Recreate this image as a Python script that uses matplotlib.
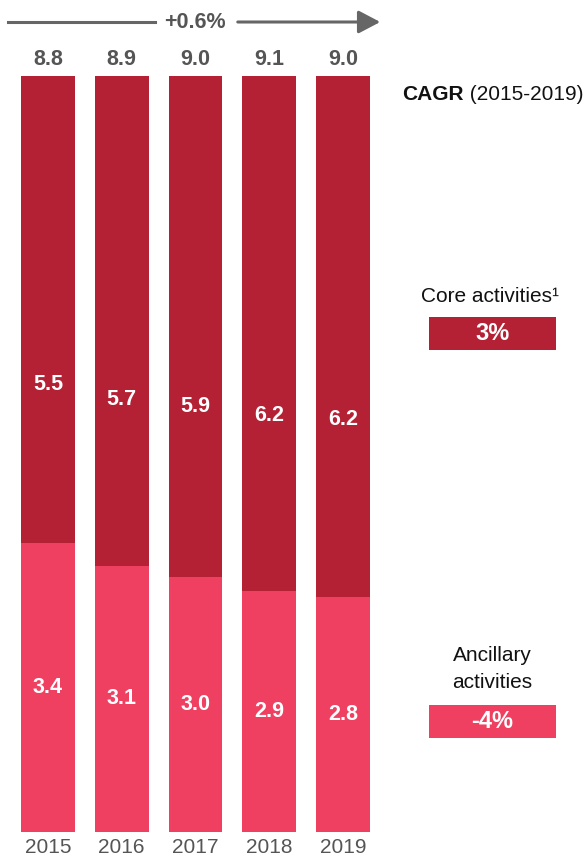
import numpy as np
import matplotlib
matplotlib.use("Agg")
import matplotlib.pyplot as plt
from matplotlib.lines import Line2D
from matplotlib.patches import FancyArrowPatch, Rectangle

plt.rcParams['font.family'] = ['Liberation Sans', 'DejaVu Sans']

# Datos
years = ['2015', '2016', '2017', '2018', '2019']
core = np.array([5.5, 5.7, 5.9, 6.2, 6.2])
ancillary = np.array([3.4, 3.1, 3.0, 2.9, 2.8])
totals = ['8.8', '8.9', '9.0', '9.1', '9.0']
cagr_total = '+0.6%'
cagr_core = '3%'
cagr_ancillary = '-4%'

c_core = '#B52134'
c_anc = '#F04061'
c_grey = '#555555'

W, H = 584, 857
fig = plt.figure(figsize=(W / 100, H / 100), dpi=100)

# ejes de las barras (en pixeles de la figura)
x0, x1, ytop, ybot = 21, 370, 76, 832
ax = fig.add_axes([x0 / W, 1 - ybot / H, (x1 - x0) / W, (ybot - ytop) / H])
bw = 0.732
x = np.arange(len(years))

# barras al 100 %
suma = core + ancillary
sh_anc = ancillary / suma
sh_core = core / suma
ax.bar(x, sh_anc, width=bw, color=c_anc, linewidth=0)
ax.bar(x, sh_core, width=bw, bottom=sh_anc, color=c_core, linewidth=0)
ax.set_xlim(-bw / 2, len(years) - 1 + bw / 2)
ax.set_ylim(0, 1)
ax.axis('off')

for i in range(len(years)):
    ax.text(x[i], sh_anc[i] / 2, f'{ancillary[i]:.1f}', ha='center', va='center',
            color='white', fontsize=15.5, fontweight='bold')
    ax.text(x[i], sh_anc[i] + 0.34 * sh_core[i], f'{core[i]:.1f}', ha='center', va='center',
            color='white', fontsize=15.5, fontweight='bold')
    ax.text(x[i], 1.0 + 6 / 756, totals[i], ha='center', va='bottom',
            color=c_grey, fontsize=15.5, fontweight='bold')
    ax.text(x[i], -6 / 756, years[i], ha='center', va='top',
            color=c_grey, fontsize=15)

# flecha CAGR total
ya = 1 - 22 / H
fig.add_artist(Line2D([8 / W, 155 / W], [ya, ya], color='#666666', lw=2.2))
fig.add_artist(FancyArrowPatch((235 / W, ya), (383 / W, ya), transform=fig.transFigure,
                               arrowstyle='-|>,head_length=0.95,head_width=0.5',
                               mutation_scale=14, color='#666666', lw=2.2))
fig.text(195 / W, ya, cagr_total, ha='center', va='center', color=c_grey,
         fontsize=15.5, fontweight='bold')

# panel derecho
t_cagr = fig.text(402 / W, 1 - 95 / H, 'CAGR', ha='left', va='center', fontsize=15,
                  fontweight='bold', color='#111111')
ax.annotate(' (2015-2019)', xy=(1, 0.5), xycoords=t_cagr, ha='left', va='center',
            fontsize=15, color='#111111', annotation_clip=False)

fig.text(490 / W, 1 - 296 / H, 'Core activities\u00b9', ha='center', va='center',
         fontsize=15, color='#111111')
fig.add_artist(Rectangle((429 / W, 1 - 350 / H), 127 / W, 33 / H,
                         transform=fig.transFigure, color=c_core, lw=0))
fig.text(492.5 / W, 1 - 333.5 / H, cagr_core, ha='center', va='center', color='white',
         fontsize=17, fontweight='bold')

fig.text(492 / W, 1 - 669 / H, 'Ancillary\nactivities', ha='center', va='center',
         fontsize=15, color='#111111', linespacing=1.5)
fig.add_artist(Rectangle((429 / W, 1 - 738 / H), 127 / W, 33 / H,
                         transform=fig.transFigure, color=c_anc, lw=0))
fig.text(492.5 / W, 1 - 721.5 / H, cagr_ancillary, ha='center', va='center', color='white',
         fontsize=17, fontweight='bold')

fig.savefig('out.png', dpi=100)
